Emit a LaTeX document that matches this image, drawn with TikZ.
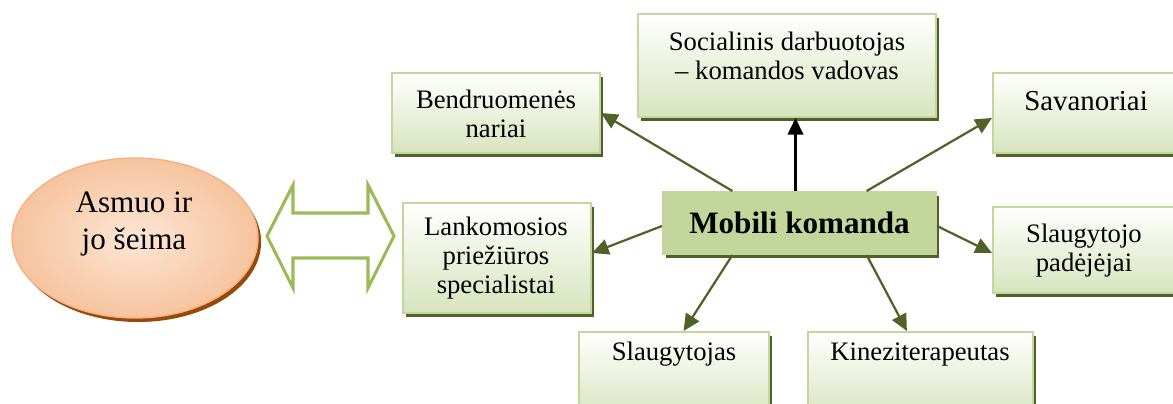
\documentclass[tikz,border=0pt]{standalone}
\usepackage{fontspec}
\setmainfont{Liberation Serif}
\usetikzlibrary{arrows.meta,shadows,calc,shapes.geometric}
\definecolor{boxline}{HTML}{C3D69B}
\definecolor{boxfill}{HTML}{D7E4BD}
\definecolor{darkolive}{HTML}{4F6228}
\definecolor{arrowgreen}{HTML}{9BBB59}
\definecolor{peach}{HTML}{F7C39E}
\definecolor{peachlight}{HTML}{FCE6D6}
\definecolor{peachline}{HTML}{F4B183}
\definecolor{brownshadow}{HTML}{984807}
\newlength{\unitpx}
\setlength{\unitpx}{0.45pt}

\tikzset{
  role/.style={draw=boxline, line width=0.9pt, top color=white, bottom color=boxfill,
    drop shadow={shadow xshift=1.4pt, shadow yshift=-2pt, fill=darkolive, opacity=1},
    inner sep=0pt},
  hub/.style={draw=boxline, fill=boxline, line width=0.9pt,
    drop shadow={shadow xshift=1.4pt, shadow yshift=-2pt, fill=darkolive, opacity=1},
    font=\fontsize{14}{16}\selectfont\bfseries},
  roletext/.style={anchor=north, align=center, inner sep=0pt, font=\fontsize{12}{13}\selectfont},
  link/.style={draw=darkolive, line width=1pt, -{Triangle[length=7.5pt,width=7pt]}},
}

\begin{document}
\begin{tikzpicture}[x=\unitpx, y=-\unitpx]
	\useasboundingbox (0,0) rectangle (1173,403);
	\clip (0,0) rectangle (1173,403);
	% person and the two-way link
	\node[ellipse, draw=peachline, line width=0.6pt, inner color=peachlight, outer color=peach,
		drop shadow={shadow xshift=1.4pt, shadow yshift=-1.8pt, fill=brownshadow, opacity=1},
		minimum width=246\unitpx, minimum height=160\unitpx] (person) at (135,238) {};
	\node[align=center, font=\fontsize{14}{17}\selectfont] (persontxt) at (134,224) {Asmuo ir\\jo šeima};
	\draw[arrowgreen, line width=1.4pt, fill=white]
		(267,236) -- (293,185) -- (293,213) -- (368,213) -- (368,185) -- (394,236)
		-- (368,288) -- (368,258) -- (293,258) -- (293,288) -- cycle;
	% team members
	\node[role, minimum width=208\unitpx, minimum height=80\unitpx] (bendr) at (496,113) {};
	\node[roletext] (bendrtxt) at (496,90) {Bendruomenės\\nariai};
	\node[role, minimum width=188\unitpx, minimum height=110\unitpx] (lank) at (497,258) {};
	\node[roletext] (lanktxt) at (496,217) {Lankomosios\\priežiūros\\specialistai};
	\node[role, minimum width=298\unitpx, minimum height=103\unitpx] (soc) at (787,65.5) {};
	\node[roletext] (soctxt) at (787,32) {Socialinis darbuotojas\\– komandos vadovas};
	\node[role, minimum width=188\unitpx, minimum height=80\unitpx] (sav) at (1087,113) {};
	\node[roletext, font=\fontsize{13}{14}\selectfont] (savtxt) at (1086,91) {Savanoriai};
	\node[role, minimum width=188\unitpx, minimum height=86\unitpx] (slp) at (1087,250) {};
	\node[roletext] (slptxt) at (1084,224) {Slaugytojo\\padėjėjai};
	\node[role, minimum width=190\unitpx, minimum height=88\unitpx] (slg) at (674,376) {};
	\node[roletext] (slgtxt) at (674,342) {Slaugytojas};
	\node[role, minimum width=225\unitpx, minimum height=88\unitpx] (kin) at (920.5,376) {};
	\node[roletext] (kintxt) at (920,342) {Kineziterapeutas};
	% the team in the middle
	\node[hub, minimum width=273\unitpx, minimum height=62\unitpx] (mob) at (799.5,223) {Mobili komanda};
	% links
	\draw[link] ($(mob.north west)!0.256!(mob.north east)$) -- (bendr.east);
	\draw[link, draw=black] ($(mob.north)+(-4,0)$) -- ($(mob.north |- soc.south)+(-4,0)$);
	\draw[link] ($(mob.north west)!0.744!(mob.north east)$) -- ($(sav.west)+(0,5)$);
	\draw[link] ($(mob.west)+(0,3)$) -- ($(lank.east)+(0,-5)$);
	\draw[link] ($(mob.east)+(0,3)$) -- ($(slp.west)+(0,3)$);
	\draw[link] ($(mob.south west)!0.256!(mob.south east)$) -- ($(slg.north west)!0.55!(slg.north east)$);
	\draw[link] ($(mob.south west)!0.744!(mob.south east)$) -- ($(kin.north west)!0.44!(kin.north east)$);
\end{tikzpicture}
\end{document}
